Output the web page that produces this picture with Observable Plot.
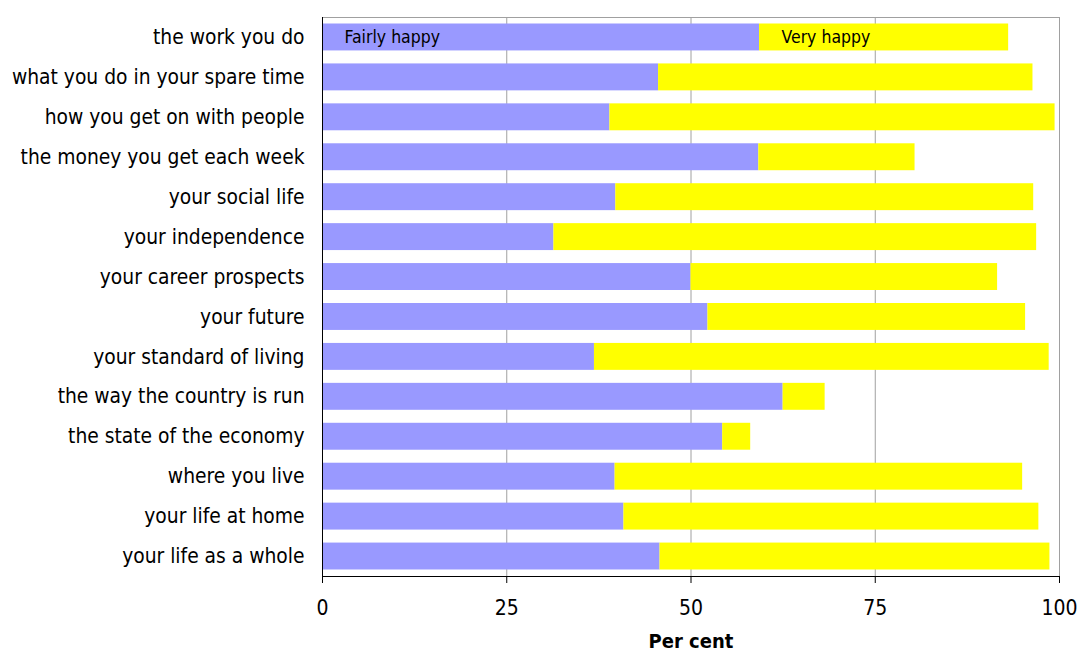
<!DOCTYPE html>
<html>
<head>
<meta charset="utf-8">
<script src="https://cdn.jsdelivr.net/npm/d3@7"></script>
<script src="https://cdn.jsdelivr.net/npm/@observablehq/plot@0.6"></script>
<style>
  body { margin: 0; background: #fff; }
</style>
</head>
<body>
<div id="chart"></div>
<script>
// Aspects of life, top to bottom
const categories = [
  "the work you do",
  "what you do in your spare time",
  "how you get on with people",
  "the money you get each week",
  "your social life",
  "your independence",
  "your career prospects",
  "your future",
  "your standard of living",
  "the way the country is run",
  "the state of the economy",
  "where you live",
  "your life at home",
  "your life as a whole"
];

// Per cent of respondents in each group
const fairlyHappy = [59.3, 45.6, 39.0, 59.2, 39.8, 31.4, 50.0, 52.3, 36.9, 62.5, 54.3, 39.7, 40.9, 45.8];
const veryHappy   = [33.8, 50.8, 60.4, 21.2, 56.7, 65.5, 41.6, 43.1, 61.7,  5.7,  3.8, 55.3, 56.3, 52.9];

const seriesNames = ["Fairly happy", "Very happy"];
const xTicks = [0, 25, 50, 75, 100];
const gridTicks = [25, 50, 75];

// Long table for stacking: fairly happy first, very happy stacked after it
const rows = categories.flatMap((c, i) => [
  {category: c, series: seriesNames[0], value: fairlyHappy[i]},
  {category: c, series: seriesNames[1], value: veryHappy[i]}
]);

// Series names written inside the top bar, at the start of each segment
const seriesLabels = [
  {category: categories[0], series: seriesNames[0], start: 0},
  {category: categories[0], series: seriesNames[1], start: fairlyHappy[0]}
];

const font = "'DejaVu Sans Condensed', 'DejaVu Sans', sans-serif";

const chart = Plot.plot({
  width: 1078,
  height: 652,
  marginLeft: 322,
  marginRight: 19,
  marginTop: 17,
  marginBottom: 76,
  style: {fontFamily: font, background: "white", color: "black"},
  x: {domain: [0, 100]},
  y: {domain: categories, padding: 0, round: false},
  color: {domain: seriesNames, range: ["#9999ff", "#ffff00"]},
  marks: [
    Plot.ruleX(gridTicks, {stroke: "#a0a0a0"}),
    Plot.frame({stroke: "#a0a0a0"}),
    Plot.barX(rows, Plot.stackX({y: "category", x: "value", fill: "series", insetTop: 6.5, insetBottom: 6.5})),
    Plot.ruleX([0], {stroke: "black"}),
    Plot.frame({anchor: "bottom", stroke: "black"}),
    Plot.axisX({ticks: xTicks, tickSize: 7, tickPadding: 17, fontSize: 21, label: null}),
    Plot.axisY({tickSize: 0, tickPadding: 18, fontSize: 20.8, label: null}),
    Plot.text(seriesLabels, {x: "start", y: "category", text: "series", dx: 22, textAnchor: "start", fontSize: 17.5}),
    Plot.text(["Per cent"], {frameAnchor: "bottom", lineAnchor: "middle", dy: 65, fontWeight: "bold", fontSize: 20})
  ]
});

document.getElementById("chart").append(chart);
</script>
</body>
</html>
